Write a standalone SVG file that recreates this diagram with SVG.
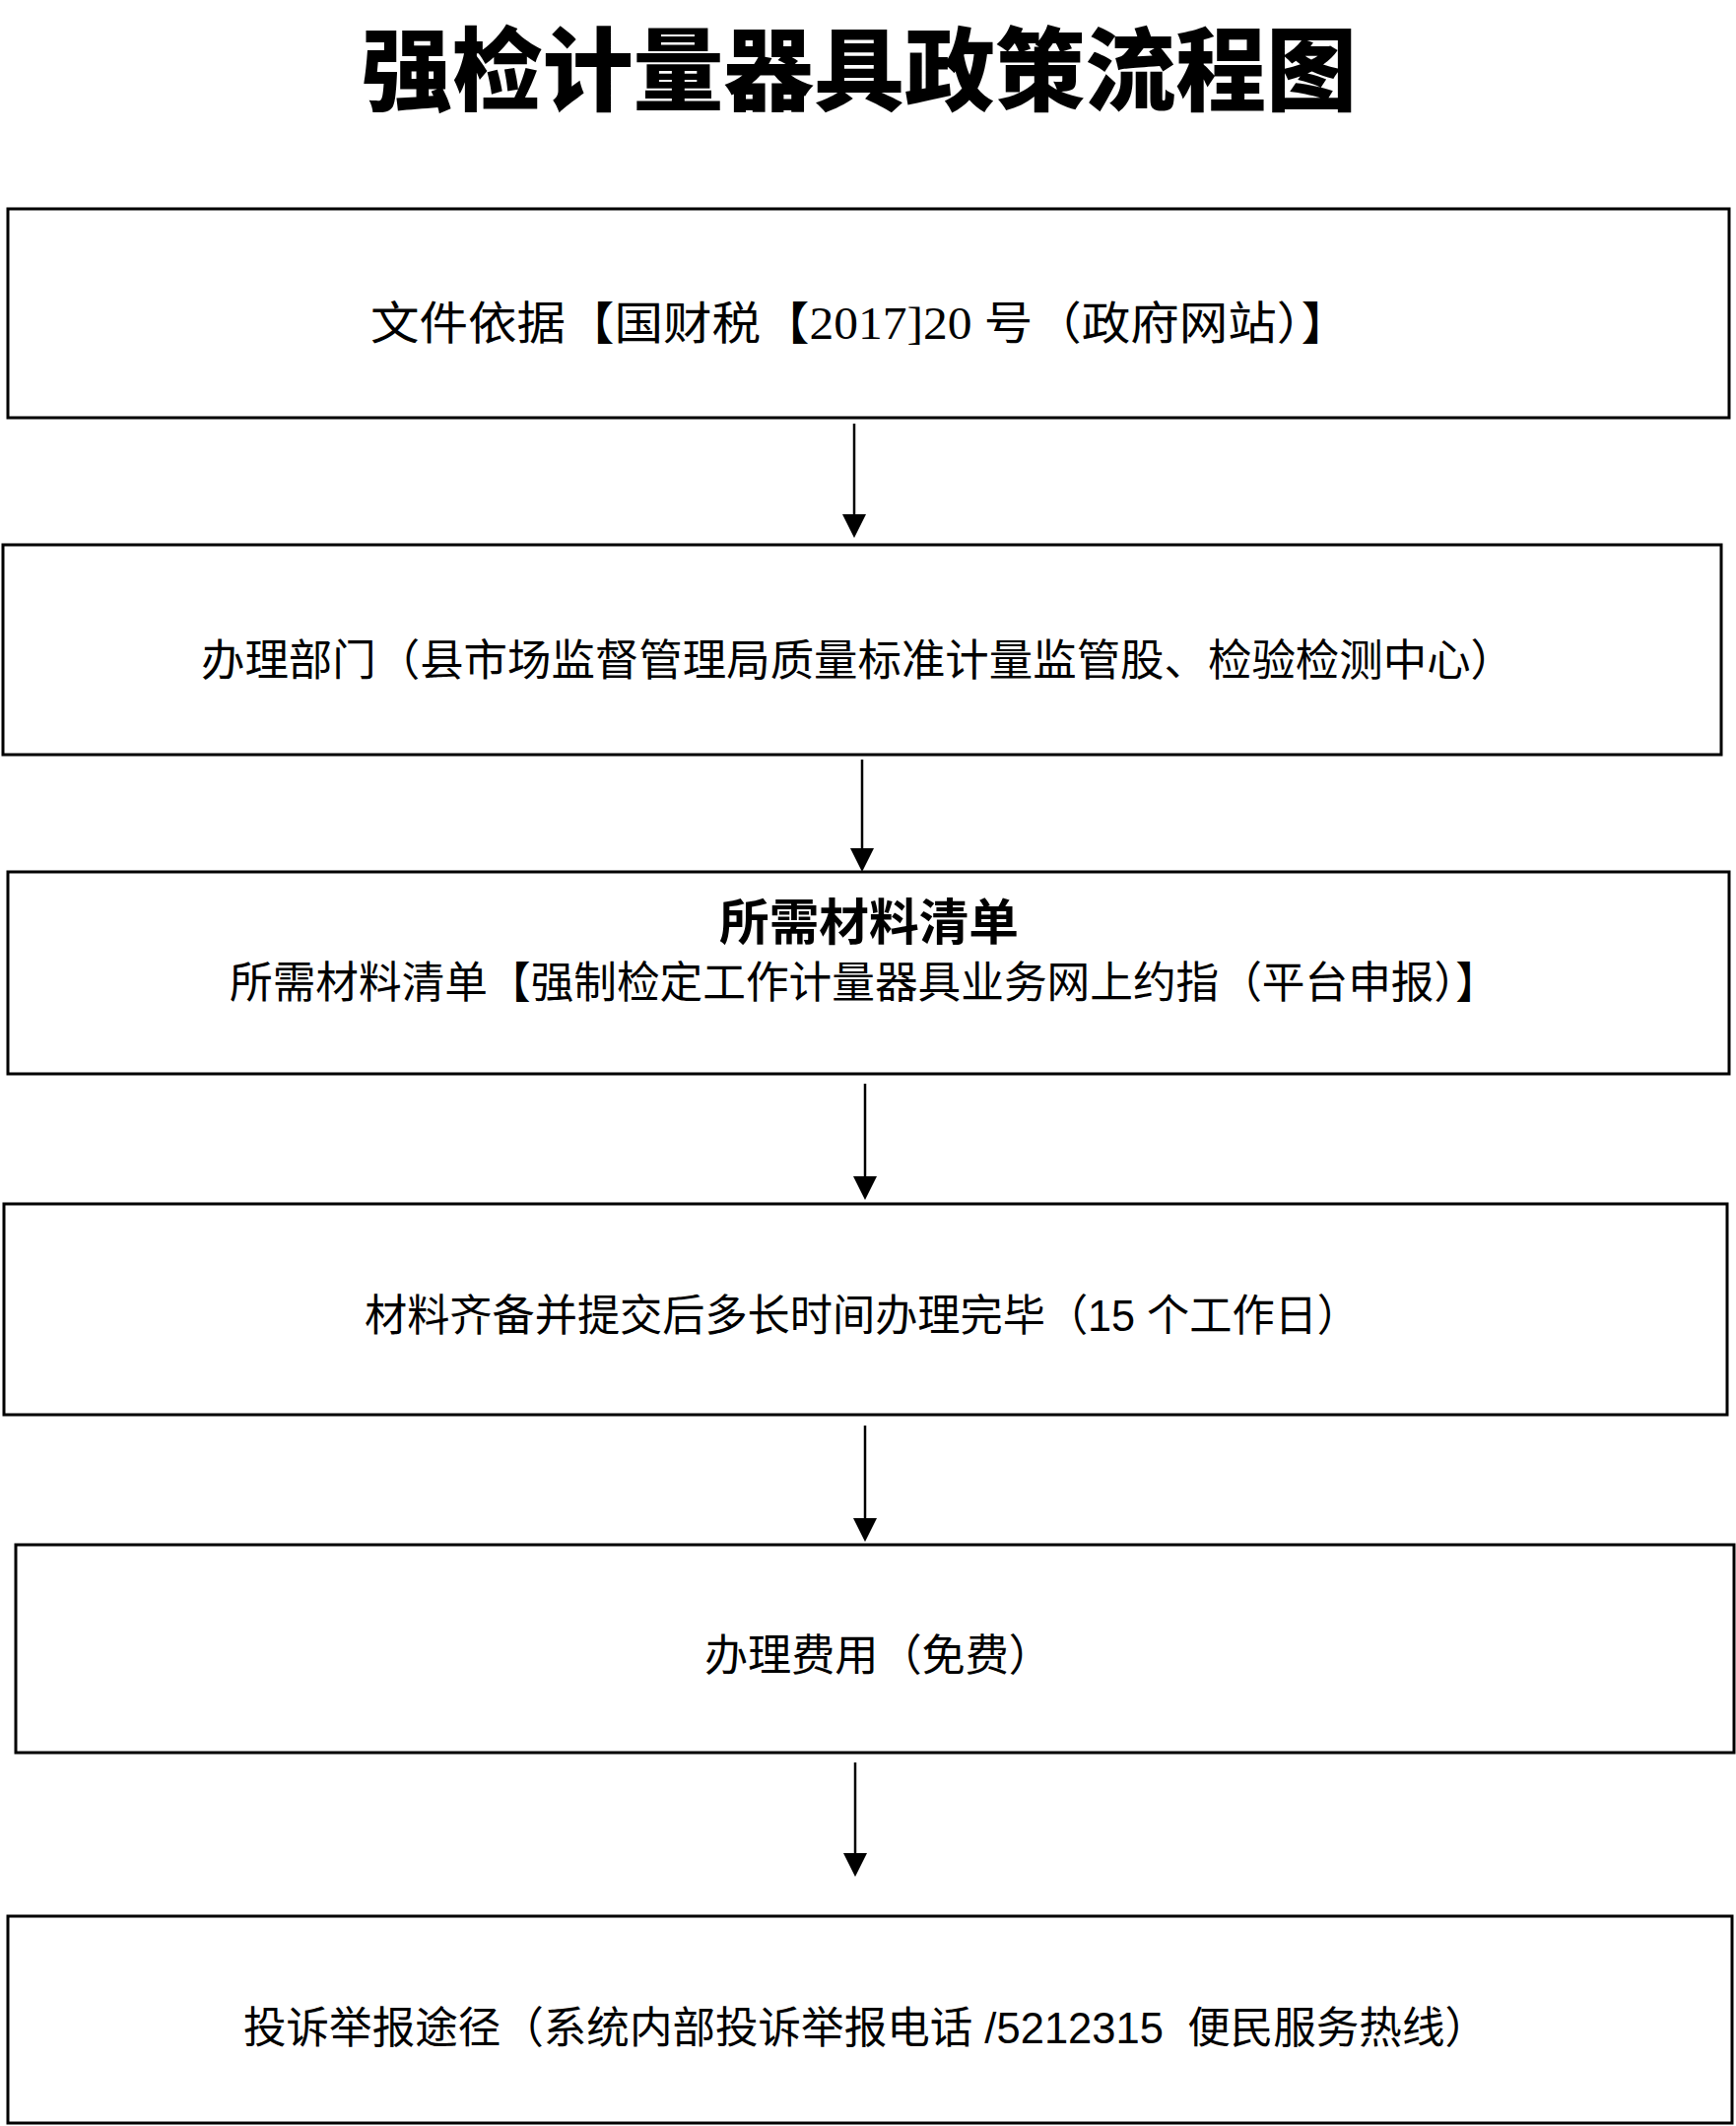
<svg xmlns="http://www.w3.org/2000/svg" width="1762" height="2158" viewBox="0 0 1762 2158">
<style>
.box{fill:#fff;stroke:#000;stroke-width:3}
.t{font-family:"Noto Sans CJK SC",sans-serif;font-size:44px;fill:#000}
.ts{font-family:"Liberation Serif","Noto Sans CJK SC",serif;font-size:46px;fill:#000}
.tn{font-family:"Liberation Sans","Noto Sans CJK SC",sans-serif;font-size:44px;fill:#000;white-space:pre}
.title{font-family:"Noto Sans CJK SC",sans-serif;font-size:92px;font-weight:900;fill:#000}
.hd{font-family:"Noto Sans CJK SC",sans-serif;font-size:50px;font-weight:700;fill:#000}
.conn line{stroke:#000;stroke-width:2.5;fill:none;marker-end:url(#ah)}
</style>
<defs>
<marker id="ah" viewBox="0 0 24 24" refX="12" refY="12" markerWidth="24" markerHeight="24" markerUnits="userSpaceOnUse" orient="auto">
<path d="M0,0 L24,12 L0,24 z" fill="#000"/>
</marker>
</defs>
<rect width="1762" height="2158" fill="#fff"/>
<g id="title">
<text class="title" x="367" y="105" textLength="1010" lengthAdjust="spacingAndGlyphs">强检计量器具政策流程图</text>
</g>
<g id="n1">
<rect class="box" x="8" y="212" width="1747" height="212"/>
<text class="ts" x="376" y="344" textLength="994" lengthAdjust="spacingAndGlyphs">文件依据【国财税【2017]20 号（政府网站）】</text>
</g>
<g id="n2">
<rect class="box" x="3" y="553" width="1744" height="213"/>
<text class="t" x="204" y="686" textLength="1333" lengthAdjust="spacingAndGlyphs">办理部门（县市场监督管理局质量标准计量监管股、检验检测中心）</text>
</g>
<g id="n3">
<rect class="box" x="8" y="885" width="1747" height="205"/>
<text class="hd" x="730" y="954" textLength="304" lengthAdjust="spacingAndGlyphs">所需材料清单</text>
<text class="t" x="233" y="1013" textLength="1288" lengthAdjust="spacingAndGlyphs">所需材料清单【强制检定工作计量器具业务网上约指（平台申报）】</text>
</g>
<g id="n4">
<rect class="box" x="4" y="1222" width="1749" height="214"/>
<text class="tn" x="370" y="1351" textLength="1010" lengthAdjust="spacingAndGlyphs">材料齐备并提交后多长时间办理完毕（15 个工作日）</text>
</g>
<g id="n5">
<rect class="box" x="16" y="1568" width="1744" height="211"/>
<text class="t" x="715" y="1696" textLength="353" lengthAdjust="spacingAndGlyphs">办理费用（免费）</text>
</g>
<g id="n6">
<rect class="box" x="8" y="1945" width="1750" height="210"/>
<text class="tn" x="247" y="2074" textLength="1263" lengthAdjust="spacingAndGlyphs">投诉举报途径（系统内部投诉举报电话 /5212315  便民服务热线）</text>
</g>
<g id="connectors" class="conn">
<line x1="867" y1="430" x2="867" y2="534"/>
<line x1="875" y1="771" x2="875" y2="873"/>
<line x1="878" y1="1100" x2="878" y2="1206"/>
<line x1="878" y1="1447" x2="878" y2="1553"/>
<line x1="868" y1="1789" x2="868" y2="1893"/>
</g>
</svg>
